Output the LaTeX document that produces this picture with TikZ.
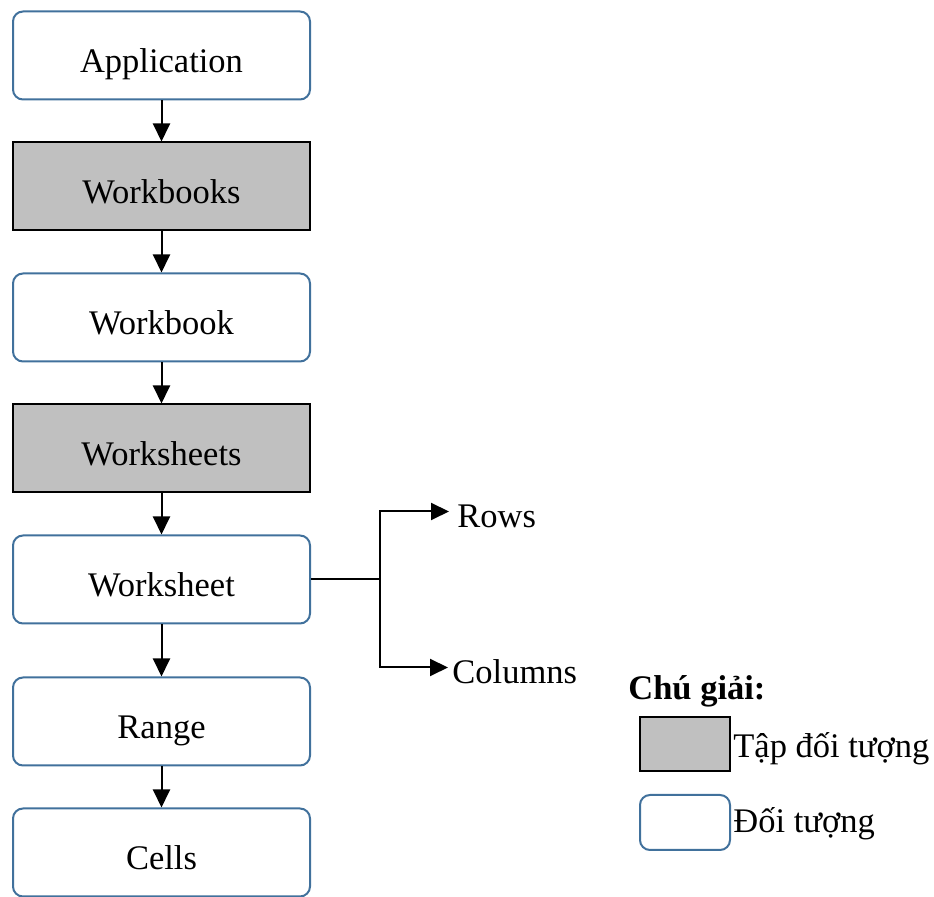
\documentclass[tikz,border=0pt]{standalone}
\usepackage{fontspec}
\setmainfont{Liberation Serif}
\usetikzlibrary{positioning,arrows.meta}
\definecolor{objline}{RGB}{65,113,156}
\definecolor{collfill}{RGB}{192,192,192}
\tikzset{
  obj/.style={draw=objline, line width=1pt, rounded corners=5pt, fill=white,
    minimum width=148.5pt, minimum height=44pt, inner sep=0pt,
    text height=17pt, text depth=0pt},
  coll/.style={obj, draw=black, rounded corners=0pt, fill=collfill},
  lbl/.style={inner xsep=2pt, inner ysep=0pt, text height=16pt, text depth=0pt},
  arr/.style={line width=1pt, -{Triangle[length=9pt,width=8.5pt]}}
}
\begin{document}
\begin{tikzpicture}[x=0.5pt, y=-0.5pt, node distance=20.5pt,
  font=\fontsize{17.25pt}{20pt}\selectfont]
\useasboundingbox (0,0) rectangle (934,897);
% main chain
\node[obj] (app) at (161.5,55.5) {Application};
\node[coll, below=of app] (wbs) {Workbooks};
\node[obj, below=of wbs] (wb) {Workbook};
\node[coll, below=of wb] (wshs) {Worksheets};
\node[obj, below=of wshs] (ws) {Worksheet};
\node[obj, below=26pt of ws] (rng) {Range};
\node[obj, below=of rng] (cells) {Cells};
\draw[arr] (app) -- (wbs);
\draw[arr] (wbs) -- (wb);
\draw[arr] (wb) -- (wshs);
\draw[arr] (wshs) -- (ws);
\draw[arr] (ws) -- (rng);
\draw[arr] (rng) -- (cells);
% rows and columns
\coordinate (fork) at ([xshift=34.5pt]ws.east);
\node[lbl, inner xsep=4pt, anchor=west] (rows) at ([xshift=34.5pt,yshift=34pt]fork) {Rows};
\node[lbl, anchor=west] (cols) at ([xshift=34pt,yshift=-44pt]fork) {Columns};
\draw[line width=1pt] (ws.east) -- (fork);
\draw[arr] (fork) |- (rows.west);
\draw[arr] (fork) |- (cols.west);
% legend
\node[anchor=base west, inner sep=0pt, font=\fontsize{17.25pt}{20pt}\selectfont\bfseries] (key) at (628,700) {Chú giải:};
\node[coll, minimum width=45pt, minimum height=27pt] (keycoll) at (685,744) {};
\node[obj, minimum width=45pt, minimum height=27.5pt] (keyobj) at (685,822.5) {};
\node[anchor=base west, inner sep=0pt] (tcoll) at (733,758) {Tập đối tượng};
\node[anchor=base west, inner sep=0pt] (tobj) at (733,833) {Đối tượng};
\end{tikzpicture}
\end{document}
